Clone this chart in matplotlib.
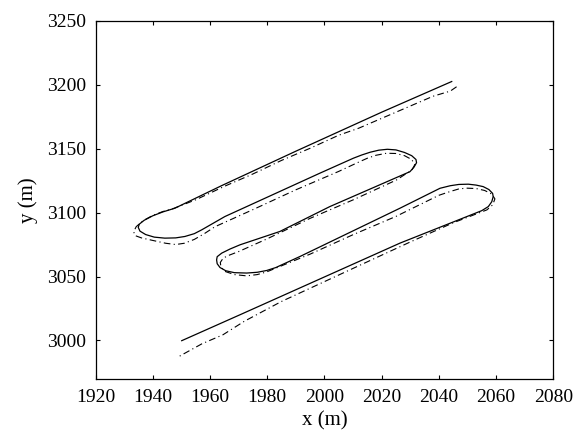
import matplotlib.pyplot as plt

plt.rcParams['font.family'] = ['Liberation Serif', 'DejaVu Serif']

# Trajectoire de référence (trait plein).
ref_x = [2044.5, 2020.0, 1990.0, 1964.0, 1947.7, 1943.5, 1940.0, 1937.0, 1935.3,
         1934.9, 1935.5, 1937.5, 1940.5, 1944.2, 1948.0, 1951.2, 1954.5, 1957.1,
         1965.2, 1998.4, 2010.1, 2013.0, 2016.0, 2019.0, 2022.0, 2025.0, 2028.0,
         2030.5, 2032.0, 2032.2, 2031.3, 2029.9, 2001.9, 1984.4, 1970.5, 1967.0,
         1964.1, 1962.5, 1962.3, 1962.5, 1963.5, 1965.5, 1968.5, 1972.8, 1976.5,
         1979.8, 1983.0, 1991.4, 2026.4, 2040.4, 2044.0, 2047.0, 2050.3, 2053.0,
         2055.5, 2057.5, 2058.8, 2059.0, 2058.5, 2057.3, 2055.0, 2026.4, 1970.5,
         1950.1]
ref_y = [3202.5, 3178.5, 3148.0, 3121.0, 3103.4, 3100.5, 3097.5, 3094.0, 3091.0,
         3088.5, 3085.5, 3082.8, 3080.8, 3080.0, 3080.2, 3081.3, 3083.5, 3086.5,
         3096.9, 3130.8, 3142.5, 3145.0, 3147.2, 3148.8, 3149.5, 3149.0, 3147.0,
         3144.5, 3141.5, 3139.0, 3135.5, 3132.0, 3104.7, 3085.2, 3074.8, 3071.5,
         3068.3, 3065.5, 3063.0, 3060.0, 3057.0, 3054.5, 3053.0, 3052.7, 3053.3,
         3054.7, 3057.0, 3065.6, 3103.4, 3119.0, 3121.0, 3122.0, 3122.2, 3121.5,
         3120.3, 3118.0, 3115.0, 3112.5, 3108.5, 3104.7, 3101.5, 3076.1, 3020.1,
         2999.8]

# Trajectoire estimée (tiret-point).
est_x = [2046.2, 2044.0, 2038.0, 2025.0, 2012.0, 2005.0, 1995.0, 1985.0, 1975.0,
         1965.0, 1955.0, 1947.0, 1943.5, 1940.0, 1936.5, 1934.2, 1933.3, 1933.8,
         1936.0, 1940.0, 1944.5, 1948.0, 1951.0, 1954.5, 1958.0, 1961.7, 1975.0,
         1990.0, 2005.0, 2012.0, 2015.0, 2018.0, 2021.7, 2025.0, 2028.0, 2030.5,
         2031.6, 2030.5, 2028.0, 2025.2, 2010.1, 1995.0, 1980.0, 1970.0, 1966.5,
         1964.6, 1963.6, 1963.8, 1965.2, 1968.5, 1972.8, 1976.5, 1979.8, 1995.0,
         2010.0, 2025.0, 2040.0, 2044.0, 2047.0, 2049.7, 2053.0, 2056.0, 2058.5,
         2059.6, 2058.8, 2056.8, 2045.0, 2030.0, 2015.0, 2000.0, 1985.0, 1972.0,
         1964.5, 1957.2, 1951.2, 1949.2]
est_y = [3198.4, 3195.0, 3191.0, 3178.5, 3166.0, 3160.5, 3150.3, 3140.8, 3130.2,
         3120.5, 3110.0, 3103.0, 3100.8, 3097.8, 3093.5, 3089.0, 3085.0, 3082.0,
         3080.2, 3078.2, 3076.0, 3075.0, 3076.0, 3079.0, 3083.5, 3088.9, 3102.3,
         3117.8, 3132.2, 3139.5, 3142.5, 3144.8, 3146.4, 3146.2, 3144.5, 3141.5,
         3137.5, 3133.0, 3129.6, 3125.5, 3110.0, 3095.5, 3079.5, 3069.5, 3066.5,
         3064.4, 3061.0, 3057.5, 3054.0, 3051.5, 3050.5, 3051.5, 3053.6, 3067.5,
         3082.7, 3097.0, 3113.5, 3116.5, 3118.5, 3119.1, 3118.8, 3117.3, 3114.5,
         3110.7, 3106.0, 3102.1, 3092.0, 3077.0, 3061.5, 3046.0, 3030.5, 3015.0,
         3004.4, 2997.4, 2990.0, 2987.5]

x_ticks = [1920, 1940, 1960, 1980, 2000, 2020, 2040, 2060, 2080]
y_ticks = [3000, 3050, 3100, 3150, 3200, 3250]

fig = plt.figure(figsize=(5.83, 4.42), dpi=100)
ax = fig.add_axes([0.164, 0.143, 0.785, 0.810])

ax.plot(ref_x, ref_y, color='black', lw=0.9, ls='-')
ax.plot(est_x, est_y, color='black', lw=0.8, ls=(0, (6, 3, 1, 3)))

ax.set_xlim(1920, 2080)
ax.set_ylim(2970, 3250)
ax.set_xticks(x_ticks)
ax.set_yticks(y_ticks)
ax.tick_params(direction='in', top=True, right=True, length=3,
               width=0.8, labelsize=14, pad=7)
for sp in ax.spines.values():
    sp.set_linewidth(0.9)

ax.set_xlabel('x (m)', fontsize=15, labelpad=4)
ax.set_ylabel('y (m)', fontsize=15, labelpad=6)

fig.savefig('out.png', dpi=100)
